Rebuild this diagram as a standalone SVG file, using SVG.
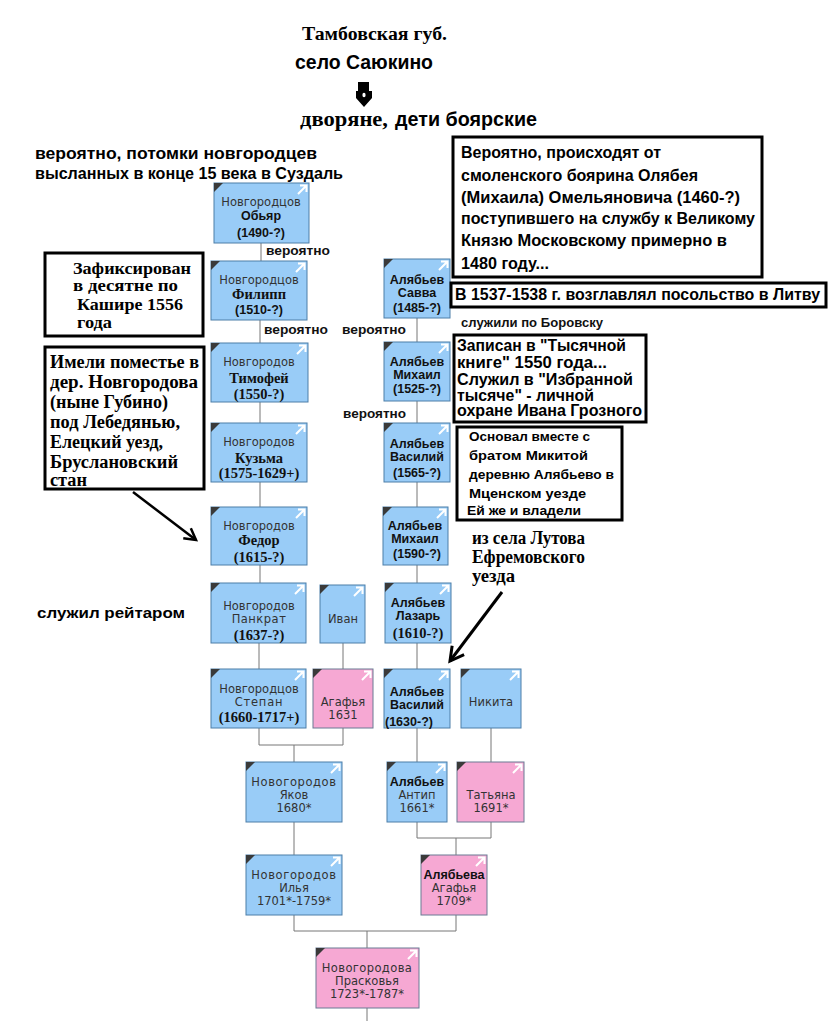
<svg xmlns="http://www.w3.org/2000/svg" xmlns:xlink="http://www.w3.org/1999/xlink" width="835" height="1021" viewBox="0 0 835 1021">
<style>
.bg{fill:#fff}
.blue{fill:#99ccf7;stroke:#4d7ea8;stroke-width:1}
.pink{fill:#f6a8d3;stroke:#6a7a94;stroke-width:1}
.nr{font-family:"DejaVu Sans",Verdana,sans-serif;font-size:11.5px;fill:#333;text-anchor:middle}
.nb{font-family:"Liberation Sans",Arial,sans-serif;font-weight:bold;font-size:12.5px;fill:#111;text-anchor:middle}
.ns{font-family:"Liberation Serif","Times New Roman",serif;font-weight:bold;font-size:14.5px;fill:#111;text-anchor:middle}
.conn{stroke:#777;stroke-width:1;fill:none}
.note{fill:#fff;stroke:#000;stroke-width:3}
.ts{font-family:"Liberation Sans",Arial,sans-serif;font-weight:bold;fill:#000}
.tf{font-family:"Liberation Serif","Times New Roman",serif;font-weight:bold;fill:#000}
.lbl{font-family:"Liberation Sans",Arial,sans-serif;font-weight:bold;font-size:13px;fill:#111}
</style>
<defs>
<polygon id="corner" points="0,0 9,0 0,9" fill="#3a3a3a"/>
<path id="ico" d="M-11,11 L-3,3 M-9,2.5 H-2.5 V9" stroke="#fff" stroke-width="2" fill="none"/>
<marker id="ah" viewBox="0 0 12 12" refX="10" refY="6" markerWidth="6" markerHeight="6" orient="auto" markerUnits="strokeWidth">
<path d="M1,1 L10,6 L1,11" fill="none" stroke="#000" stroke-width="2"/>
</marker>
</defs>
<rect class="bg" x="0" y="0" width="835" height="1021"/>

<!-- header -->
<g id="header">
<text class="tf" x="302" y="40" font-size="18" textLength="145" lengthAdjust="spacingAndGlyphs">Тамбовская губ.</text>
<text class="ts" x="295" y="69" font-size="20" textLength="138" lengthAdjust="spacingAndGlyphs">село Саюкино</text>
<polygon points="358,82 369,82 369,91 372,91 372,98 364,107 356,98 356,91 358,91" fill="#000"/>
<ellipse cx="364" cy="95" rx="1.6" ry="2.2" fill="#fff"/>
<text x="300" y="126" font-size="20"><tspan class="tf" font-size="22" textLength="88" lengthAdjust="spacingAndGlyphs">дворяне,</tspan><tspan class="ts" x="395" textLength="142" lengthAdjust="spacingAndGlyphs">дети боярские</tspan></text>
<text class="ts" x="35" y="159" font-size="16" textLength="282" lengthAdjust="spacingAndGlyphs">вероятно, потомки новгородцев</text>
<text class="ts" x="35" y="179" font-size="16" textLength="308" lengthAdjust="spacingAndGlyphs">высланных в конце 15 века в Суздаль</text>
</g>

<!-- connectors -->
<g id="connectors">
<path class="conn" d="M261,243 V261 M260,320 V343 M260,402 V423 M260,482 V507 M260,565 V583 M259,643 V669"/>
<path class="conn" d="M343,643 V669"/>
<path class="conn" d="M259,728 V745 H343 V728 M294,745 V762"/>
<path class="conn" d="M294,822 V855"/>
<path class="conn" d="M417,318 V342 M417,401 V423 M417,482 V507 M417,565 V583 M417,643 V669 M417,728 V762"/>
<path class="conn" d="M491,728 V762"/>
<path class="conn" d="M417,822 V838 H491 V822 M456,838 V855"/>
<path class="conn" d="M294,915 V931 H456 V915 M367,931 V948"/>
<path class="conn" d="M367,1008 V1021"/>
</g>

<!-- link labels -->
<g id="labels">
<text class="lbl" x="266" y="255" textLength="64" lengthAdjust="spacingAndGlyphs">вероятно</text>
<text class="lbl" x="264" y="334" textLength="64" lengthAdjust="spacingAndGlyphs">вероятно</text>
<text class="lbl" x="342" y="334" textLength="64" lengthAdjust="spacingAndGlyphs">вероятно</text>
<text class="lbl" x="343" y="418" textLength="63" lengthAdjust="spacingAndGlyphs">вероятно</text>
<text class="lbl" x="461" y="327" textLength="142" lengthAdjust="spacingAndGlyphs">служили по Боровску</text>
<text class="ts" x="37" y="618" font-size="15" textLength="148" lengthAdjust="spacingAndGlyphs">служил рейтаром</text>
</g>

<!-- nodes: left column -->
<g id="n-obyar">
<rect class="blue" x="214" y="183" width="95" height="60"/>
<use xlink:href="#corner" x="214" y="183"/><use xlink:href="#ico" x="309" y="183"/>
<text class="nr" x="261" y="206">Новгородцов</text>
<text class="nb" x="261" y="220" font-size="13.5">Обьяр</text>
<text class="nb" x="261" y="237" font-size="13.5">(1490-?)</text>
</g>
<g id="n-filipp">
<rect class="blue" x="211" y="261" width="96" height="59"/>
<use xlink:href="#corner" x="211" y="261"/><use xlink:href="#ico" x="307" y="261"/>
<text class="nr" x="259" y="284">Новгородцов</text>
<text class="ns" x="259" y="299">Филипп</text>
<text class="nb" x="259" y="314" font-size="13.5">(1510-?)</text>
</g>
<g id="n-timofey">
<rect class="blue" x="211" y="343" width="97" height="59"/>
<use xlink:href="#corner" x="211" y="343"/><use xlink:href="#ico" x="308" y="343"/>
<text class="nr" x="259" y="366">Новгородов</text>
<text class="ns" x="259" y="383">Тимофей</text>
<text class="ns" x="259" y="399">(1550-?)</text>
</g>
<g id="n-kuzma">
<rect class="blue" x="211" y="423" width="96" height="59"/>
<use xlink:href="#corner" x="211" y="423"/><use xlink:href="#ico" x="307" y="423"/>
<text class="nr" x="259" y="446">Новгородов</text>
<text class="ns" x="259" y="463">Кузьма</text>
<text class="ns" x="259" y="478">(1575-1629+)</text>
</g>
<g id="n-fedor">
<rect class="blue" x="211" y="507" width="96" height="58"/>
<use xlink:href="#corner" x="211" y="507"/><use xlink:href="#ico" x="307" y="507"/>
<text class="nr" x="259" y="530">Новгородов</text>
<text class="ns" x="259" y="545">Федор</text>
<text class="ns" x="259" y="562">(1615-?)</text>
</g>
<g id="n-pankrat">
<rect class="blue" x="211" y="583" width="95" height="60"/>
<use xlink:href="#corner" x="211" y="583"/><use xlink:href="#ico" x="306" y="583"/>
<text class="nr" x="259" y="610">Новгородов</text>
<text class="nr" x="259" y="623" letter-spacing="0.5">Панкрат</text>
<text class="ns" x="259" y="640">(1637-?)</text>
</g>
<g id="n-ivan">
<rect class="blue" x="320" y="585" width="45" height="58"/>
<use xlink:href="#corner" x="320" y="585"/><use xlink:href="#ico" x="365" y="585"/>
<text class="nr" x="343" y="623">Иван</text>
</g>
<g id="n-stepan">
<rect class="blue" x="211" y="669" width="95" height="59"/>
<use xlink:href="#corner" x="211" y="669"/><use xlink:href="#ico" x="306" y="669"/>
<text class="nr" x="259" y="693">Новгородцов</text>
<text class="nr" x="259" y="706" letter-spacing="0.8">Степан</text>
<text class="ns" x="259" y="722">(1660-1717+)</text>
</g>
<g id="n-agafya1631">
<rect class="pink" x="313" y="669" width="60" height="59"/>
<use xlink:href="#corner" x="313" y="669"/><use xlink:href="#ico" x="373" y="669"/>
<text class="nr" x="343" y="706">Агафья</text>
<text class="nr" x="343" y="719">1631</text>
</g>

<!-- nodes: right column -->
<g id="n-savva">
<rect class="blue" x="384" y="259" width="66" height="59"/>
<use xlink:href="#corner" x="384" y="259"/><use xlink:href="#ico" x="450" y="259"/>
<text class="nb" x="417" y="284">Алябьев</text>
<text class="nb" x="417" y="297">Савва</text>
<text class="nb" x="417" y="312" font-size="13.5">(1485-?)</text>
</g>
<g id="n-mikhail1525">
<rect class="blue" x="384" y="342" width="66" height="59"/>
<use xlink:href="#corner" x="384" y="342"/><use xlink:href="#ico" x="450" y="342"/>
<text class="nb" x="417" y="366">Алябьев</text>
<text class="nb" x="417" y="379">Михаил</text>
<text class="nb" x="417" y="393" font-size="13.5">(1525-?)</text>
</g>
<g id="n-vasiliy1565">
<rect class="blue" x="384" y="423" width="66" height="59"/>
<use xlink:href="#corner" x="384" y="423"/><use xlink:href="#ico" x="450" y="423"/>
<text class="nb" x="417" y="448">Алябьев</text>
<text class="nb" x="417" y="461">Василий</text>
<text class="nb" x="417" y="477" font-size="13.5">(1565-?)</text>
</g>
<g id="n-mikhail1590">
<rect class="blue" x="383" y="507" width="65" height="58"/>
<use xlink:href="#corner" x="383" y="507"/><use xlink:href="#ico" x="448" y="507"/>
<text class="nb" x="415" y="530">Алябьев</text>
<text class="nb" x="415" y="543">Михаил</text>
<text class="nb" x="417" y="558" font-size="13.5">(1590-?)</text>
</g>
<g id="n-lazar">
<rect class="blue" x="385" y="583" width="66" height="60"/>
<use xlink:href="#corner" x="385" y="583"/><use xlink:href="#ico" x="451" y="583"/>
<text class="nb" x="418" y="607">Алябьев</text>
<text class="nb" x="418" y="620">Лазарь</text>
<text class="ns" x="418" y="638">(1610-?)</text>
</g>
<g id="n-vasiliy1630">
<rect class="blue" x="384" y="669" width="66" height="59"/>
<use xlink:href="#corner" x="384" y="669"/><use xlink:href="#ico" x="450" y="669"/>
<text class="nb" x="417" y="696">Алябьев</text>
<text class="nb" x="417" y="709">Василий</text>
<text class="nb" x="385" y="726" font-size="13.5" style="text-anchor:start">(1630-?)</text>
</g>
<g id="n-nikita">
<rect class="blue" x="461" y="669" width="60" height="59"/>
<use xlink:href="#corner" x="461" y="669"/><use xlink:href="#ico" x="521" y="669"/>
<text class="nr" x="491" y="706">Никита</text>
</g>

<!-- nodes: bottom -->
<g id="n-yakov">
<rect class="blue" x="246" y="762" width="96" height="60"/>
<use xlink:href="#corner" x="246" y="762"/><use xlink:href="#ico" x="342" y="762"/>
<text class="nr" x="294" y="786" letter-spacing="0.6">Новогородов</text>
<text class="nr" x="294" y="799">Яков</text>
<text class="nr" x="294" y="812">1680*</text>
</g>
<g id="n-antip">
<rect class="blue" x="387" y="762" width="60" height="60"/>
<use xlink:href="#corner" x="387" y="762"/><use xlink:href="#ico" x="447" y="762"/>
<text class="nb" x="417" y="786" fill="#000">Алябьев</text>
<text class="nr" x="417" y="799">Антип</text>
<text class="nr" x="417" y="812">1661*</text>
</g>
<g id="n-tatyana">
<rect class="pink" x="457" y="762" width="67" height="60"/>
<use xlink:href="#corner" x="457" y="762"/><use xlink:href="#ico" x="524" y="762"/>
<text class="nr" x="491" y="799">Татьяна</text>
<text class="nr" x="491" y="812">1691*</text>
</g>
<g id="n-ilya">
<rect class="blue" x="246" y="855" width="96" height="60"/>
<use xlink:href="#corner" x="246" y="855"/><use xlink:href="#ico" x="342" y="855"/>
<text class="nr" x="294" y="879" letter-spacing="0.6">Новогородов</text>
<text class="nr" x="294" y="892">Илья</text>
<text class="nr" x="294" y="905">1701*-1759*</text>
</g>
<g id="n-agafya1709">
<rect class="pink" x="421" y="855" width="66" height="60"/>
<use xlink:href="#corner" x="421" y="855"/><use xlink:href="#ico" x="487" y="855"/>
<text class="nb" x="454" y="879" fill="#000">Алябьева</text>
<text class="nr" x="454" y="892">Агафья</text>
<text class="nr" x="454" y="905">1709*</text>
</g>
<g id="n-praskovya">
<rect class="pink" x="316" y="948" width="103" height="60"/>
<use xlink:href="#corner" x="316" y="948"/><use xlink:href="#ico" x="419" y="948"/>
<text class="nr" x="367" y="972" letter-spacing="0.4">Новогородова</text>
<text class="nr" x="367" y="985">Прасковья</text>
<text class="nr" x="367" y="998">1723*-1787*</text>
</g>

<!-- notes -->
<g id="note-olyabey">
<rect class="note" x="453" y="137" width="309" height="140"/>
<text class="ts" font-size="16">
<tspan x="461" y="158" textLength="200" lengthAdjust="spacingAndGlyphs">Вероятно, происходят от</tspan>
<tspan x="461" y="181" textLength="237" lengthAdjust="spacingAndGlyphs">смоленского боярина Олябея</tspan>
<tspan x="461" y="203" textLength="279" lengthAdjust="spacingAndGlyphs">(Михаила) Омельяновича (1460-?)</tspan>
<tspan x="461" y="224" textLength="294" lengthAdjust="spacingAndGlyphs">поступившего на службу к Великому</tspan>
<tspan x="461" y="246" textLength="266" lengthAdjust="spacingAndGlyphs">Князю Московскому примерно в</tspan>
<tspan x="461" y="269" textLength="88" lengthAdjust="spacingAndGlyphs">1480 году...</tspan>
</text>
</g>
<g id="note-litva">
<rect class="note" x="451" y="283" width="375" height="24"/>
<text class="ts" font-size="16" x="455" y="300" textLength="365" lengthAdjust="spacingAndGlyphs">В 1537-1538 г. возглавлял посольство в Литву</text>
</g>
<g id="note-tysyacha">
<rect class="note" x="454" y="335" width="192" height="87"/>
<text class="ts" font-size="16">
<tspan x="457" y="351" textLength="169" lengthAdjust="spacingAndGlyphs">Записан в "Тысячной</tspan>
<tspan x="457" y="368" textLength="150" lengthAdjust="spacingAndGlyphs">книге" 1550 года...</tspan>
<tspan x="457" y="385" textLength="176" lengthAdjust="spacingAndGlyphs">Служил в "Избранной</tspan>
<tspan x="457" y="401" textLength="137" lengthAdjust="spacingAndGlyphs">тысяче" - личной</tspan>
<tspan x="457" y="416" textLength="185" lengthAdjust="spacingAndGlyphs">охране Ивана Грозного</tspan>
</text>
</g>
<g id="note-alyabyevo">
<rect class="note" x="457" y="427" width="165" height="93"/>
<text class="ts" font-size="13.5">
<tspan x="469" y="441" textLength="121" lengthAdjust="spacingAndGlyphs">Основал вместе с</tspan>
<tspan x="469" y="460" textLength="119" lengthAdjust="spacingAndGlyphs">братом Микитой</tspan>
<tspan x="469" y="479" textLength="145" lengthAdjust="spacingAndGlyphs">деревню Алябьево в</tspan>
<tspan x="469" y="498" textLength="117" lengthAdjust="spacingAndGlyphs">Мценском уезде</tspan>
<tspan x="467" y="515" textLength="114" lengthAdjust="spacingAndGlyphs">Ей же и владели</tspan>
</text>
</g>
<g id="note-lutovo">
<text class="tf" font-size="18">
<tspan x="472" y="544" textLength="113" lengthAdjust="spacingAndGlyphs">из села Лутова</tspan>
<tspan x="472" y="563" textLength="113" lengthAdjust="spacingAndGlyphs">Ефремовского</tspan>
<tspan x="472" y="582" textLength="43" lengthAdjust="spacingAndGlyphs">уезда</tspan>
</text>
</g>
<g id="note-kashira">
<rect class="note" x="45" y="253" width="158" height="83"/>
<text class="tf" font-size="17">
<tspan x="73" y="274" textLength="118" lengthAdjust="spacingAndGlyphs">Зафиксирован</tspan>
<tspan x="73" y="291" textLength="105" lengthAdjust="spacingAndGlyphs">в десятне по</tspan>
<tspan x="77" y="310" textLength="106" lengthAdjust="spacingAndGlyphs">Кашире 1556</tspan>
<tspan x="77" y="328" textLength="35" lengthAdjust="spacingAndGlyphs">года</tspan>
</text>
</g>
<g id="note-gubino">
<rect class="note" x="45" y="347" width="159" height="142"/>
<text class="tf" font-size="18">
<tspan x="50" y="368" textLength="149" lengthAdjust="spacingAndGlyphs">Имели поместье в</tspan>
<tspan x="50" y="388" textLength="148" lengthAdjust="spacingAndGlyphs">дер. Новгородова</tspan>
<tspan x="50" y="408" textLength="118" lengthAdjust="spacingAndGlyphs">(ныне Губино)</tspan>
<tspan x="50" y="428" textLength="130" lengthAdjust="spacingAndGlyphs">под Лебедянью,</tspan>
<tspan x="50" y="448" textLength="113" lengthAdjust="spacingAndGlyphs">Елецкий уезд,</tspan>
<tspan x="50" y="468" textLength="128" lengthAdjust="spacingAndGlyphs">Бруслановский</tspan>
<tspan x="50" y="486" textLength="37" lengthAdjust="spacingAndGlyphs">стан</tspan>
</text>
</g>

<!-- hand-drawn pointer arrows -->
<g id="pointers">
<line x1="133" y1="492" x2="196" y2="540" stroke="#000" stroke-width="2.5" marker-end="url(#ah)"/>
<line x1="502" y1="592" x2="450" y2="661" stroke="#000" stroke-width="3" marker-end="url(#ah)"/>
</g>
</svg>
